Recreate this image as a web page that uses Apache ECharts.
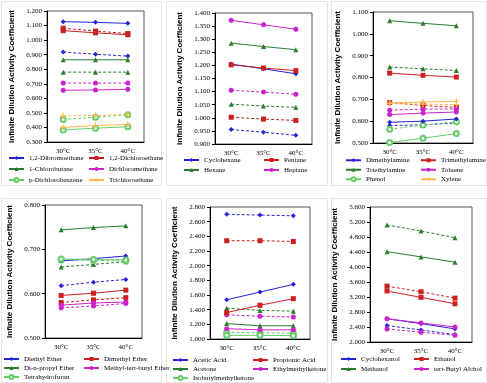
<!DOCTYPE html>
<html>
<head>
    <meta charset="utf-8">
</head>
<body style="margin:0;background:#fff;">
<div id="main" style="width: 487px;height:383px;"></div>
<script src="https://cdn.jsdelivr.net/npm/echarts@6/dist/echarts.min.js"></script>
<script type="text/javascript">
    var temps = ['30°C', '35°C', '40°C'];

    // panel 1 - halogenated
    var p1Names = ['1,2-Dibromoethane', '1,2-Dichloroethane', '1-Chlorobutane', 'Dichloromethane', 'p-Dichlorobenzene', 'Trichloroethane'];
    var p1Solid = [[1.127, 1.122, 1.115], [1.065, 1.050, 1.037], [0.865, 0.865, 0.865], [0.655, 0.658, 0.662], [0.383, 0.395, 0.405], [0.400, 0.413, 0.420]];
    var p1Dashed = [[0.918, 0.903, 0.890], [1.082, 1.062, 1.045], [0.780, 0.780, 0.780], [0.705, 0.705, 0.705], [0.455, 0.470, 0.488], [0.480, 0.482, 0.490]];

    // panel 2 - alkanes
    var p2Names = ['Cyclohexane', 'Pentane', 'Hexane', 'Heptane'];
    var p2Solid = [[1.205, 1.187, 1.168], [1.202, 1.190, 1.180], [1.285, 1.272, 1.260], [1.372, 1.355, 1.338]];
    var p2Dashed = [[0.955, 0.945, 0.933], [1.002, 0.995, 0.990], [1.052, 1.045, 1.040], [1.105, 1.098, 1.090]];

    // panel 3 - amines / aromatics
    var p3Names = ['Dimethylamine', 'Trimethylamine', 'Triethylamine', 'Toluene', 'Phenol', 'Xylene'];
    var p3Solid = [[0.595, 0.600, 0.610], [0.820, 0.810, 0.802], [1.060, 1.048, 1.037], [0.630, 0.637, 0.642], [0.502, 0.522, 0.543], [0.683, 0.688, 0.690]];
    var p3Dashed = [[0.580, 0.583, 0.592], [0.685, 0.672, 0.663], [0.848, 0.840, 0.832], [0.650, 0.655, 0.656], [0.563, 0.582, 0.597], [0.680, 0.678, 0.676]];

    // panel 4 - ethers
    var p4Names = ['Diethyl Ether', 'Dimethyl Ether', 'Di-n-propyl Ether', 'Methyl-tert-butyl Ether', 'Tetrahydrofuran'];
    var p4Solid = [[0.674, 0.679, 0.685], [0.596, 0.601, 0.608], [0.744, 0.749, 0.753], [0.574, 0.579, 0.581], [0.678, 0.677, 0.676]];
    var p4Dashed = [[0.618, 0.626, 0.632], [0.580, 0.586, 0.591], [0.660, 0.666, 0.672], [0.568, 0.572, 0.578], [0.676, 0.675, 0.674]];

    // panel 5 - acids / ketones
    var p5Names = ['Acetic Acid', 'Propionic Acid', 'Acetone', 'Ethylmethylketone', 'Isobutylmethylketone'];
    var p5Solid = [[1.535, 1.640, 1.745], [1.360, 1.460, 1.550], [1.210, 1.180, 1.180], [1.140, 1.125, 1.125], [1.050, 1.050, 1.045]];
    var p5Dashed = [[2.700, 2.690, 2.680], [2.340, 2.340, 2.330], [1.420, 1.390, 1.380], [1.330, 1.310, 1.300], [1.090, 1.085, 1.080]];

    // panel 6 - alcohols
    var p6Names = ['Cyclohexanol', 'Ethanol', 'Methanol', 'tert-Butyl Alchol'];
    var p6Solid = [[2.620, 2.490, 2.350], [3.360, 3.190, 3.020], [4.410, 4.270, 4.130], [2.620, 2.510, 2.400]];
    var p6Dashed = [[2.440, 2.320, 2.200], [3.490, 3.340, 3.170], [5.120, 4.960, 4.780], [2.350, 2.260, 2.180]];

    var yRanges = [[0.3, 1.2, 0.1], [0.9, 1.4, 0.05], [0.5, 1.1, 0.1], [0.5, 0.8, 0.1], [1.0, 2.8, 0.2], [2.0, 5.6, 0.4]];

    var colors = ['#2323d6', '#cc2020', '#2a7d2a', '#cc22cc', '#66cc66', '#ffb850'];
    var plus = 'path://M4,0H6V4H10V6H6V10H4V6H0V4H4Z';
    var symbols = ['diamond', 'rect', 'triangle', 'circle', 'emptyCircle', plus];

    var serif = 'Liberation Serif';
    var panels = [
        {names: p1Names, solid: p1Solid, dashed: p1Dashed, grid: [47, 11, 97, 131], box: [1, 1, 160, 184], legTop: 152.5, row: 11, legX: [8, 88]},
        {names: p2Names, solid: p2Solid, dashed: p2Dashed, grid: [215, 13, 97, 131], box: [166, 1, 161, 184], legTop: 155, row: 10, legX: [183, 263]},
        {names: p3Names, solid: p3Solid, dashed: p3Dashed, grid: [373, 12, 100, 131], box: [331, 1, 155, 184], legTop: 155.5, row: 9.5, legX: [345, 420]},
        {names: p4Names, solid: p4Solid, dashed: p4Dashed, grid: [45, 205, 97, 133], box: [1, 198, 160, 184], legTop: 354.5, row: 9, legX: [3, 83]},
        {names: p5Names, solid: p5Solid, dashed: p5Dashed, grid: [210, 207, 100, 132], box: [166, 198, 161, 184], legTop: 355.5, row: 9, legX: [172, 252]},
        {names: p6Names, solid: p6Solid, dashed: p6Dashed, grid: [370, 207, 102, 135], box: [331, 198, 155, 184], legTop: 354, row: 10, legX: [340, 413]}
    ];

    var grids = [], xAxes = [], yAxes = [], series = [], legends = [], graphics = [];
    panels.forEach(function (p, i) {
        graphics.push({
            type: 'rect', left: p.box[0], top: p.box[1], z: -1,
            shape: {width: p.box[2], height: p.box[3]},
            style: {fill: '#fff', stroke: '#e4e4e4', lineWidth: 1}
        });
        grids.push({left: p.grid[0], top: p.grid[1], width: p.grid[2], height: p.grid[3], show: true, borderColor: '#555', borderWidth: 1, backgroundColor: '#fff'});
        xAxes.push({
            type: 'category', gridIndex: i, data: temps, boundaryGap: true,
            axisLine: {lineStyle: {color: '#000'}}, axisTick: {show: false},
            axisLabel: {fontFamily: serif, fontSize: 7, color: '#000', margin: 6}
        });
        var r = yRanges[i];
        yAxes.push({
            type: 'value', gridIndex: i, min: r[0], max: r[1], interval: r[2],
            name: 'Infinite Dilution Activity Coefficient', nameLocation: 'middle', nameGap: 31,
            nameTextStyle: {fontFamily: 'Liberation Sans', fontWeight: 'bold', fontSize: 8, color: '#000'},
            axisLine: {show: true, lineStyle: {color: '#000'}},
            axisTick: {show: true, length: 3, lineStyle: {color: '#000'}},
            splitLine: {show: false},
            axisLabel: {fontFamily: serif, fontSize: 7, color: '#000', margin: 5, formatter: function (v) { return v.toFixed(3); }}
        });
        p.names.forEach(function (n, k) {
            var base = {
                name: n, type: 'line', xAxisIndex: i, yAxisIndex: i,
                symbol: symbols[k], symbolSize: k === 5 ? 6 : 5, color: colors[k],
                animation: false
            };
            series.push(Object.assign({}, base, {data: p.solid[k], lineStyle: {width: 1, color: colors[k]}}));
            series.push(Object.assign({}, base, {data: p.dashed[k], lineStyle: {width: 1, type: [3, 2], color: colors[k]}, z: 1}));
        });
        [0, 1].forEach(function (c) {
            legends.push({
                orient: 'vertical', left: p.legX[c], top: p.legTop, padding: 0,
                itemWidth: 15, itemHeight: 5, itemGap: 0,
                textStyle: {fontFamily: serif, fontSize: 7, color: '#000', lineHeight: p.row, padding: [0, 0, 0, 0]},
                data: p.names.filter(function (n, k) { return k % 2 === c; })
            });
        });
    });

    var option = {
        animation: false,
        graphic: graphics,
        grid: grids,
        xAxis: xAxes,
        yAxis: yAxes,
        legend: legends,
        series: series
    };
    var myChart = echarts.init(document.getElementById('main'));
    myChart.setOption(option);
</script>
</body>
</html>
